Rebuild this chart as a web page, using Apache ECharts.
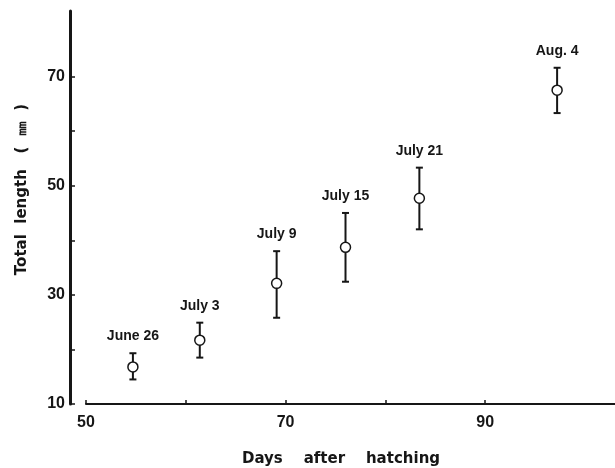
<!DOCTYPE html>
<html>
<head>
<meta charset="utf-8">
<script src="https://cdn.jsdelivr.net/npm/echarts@6/dist/echarts.min.js"></script>
<style>html,body{margin:0;padding:0;background:#fff}#c{width:615px;height:468px}</style>
</head>
<body>
<div id="c"></div>
<script>
var dateLabels = ['June 26', 'July 3', 'July 9', 'July 15', 'July 21', 'Aug. 4'];
var days = [54.7, 61.4, 69.1, 76.0, 83.4, 97.2];
var meanLength = [16.8, 21.7, 32.1, 38.7, 47.7, 67.5];
var upperLength = [19.3, 24.9, 38.0, 45.0, 53.3, 71.6];
var lowerLength = [14.5, 18.5, 25.8, 32.4, 42.0, 63.3];
var xTickValues = [50, 60, 70, 80, 90];
var xTickLabels = [50, 70, 90];
var yTickValues = [10, 20, 30, 40, 50, 60, 70];
var yTickLabels = [10, 30, 50, 70];

var ink = '#161616';
var errData = days.map(function (d, i) { return [d, lowerLength[i], upperLength[i], i]; });
var meanData = days.map(function (d, i) { return [d, meanLength[i]]; });

var chart = echarts.init(document.getElementById('c'), null, { renderer: 'canvas' });
chart.setOption({
  backgroundColor: '#fff',
  animation: false,
  grid: { left: 86, right: 0, top: 11, bottom: 64, containLabel: false, outerBoundsMode: 'none' },
  xAxis: {
    type: 'value', min: 50, max: 103, interval: 10,
    name: 'Days    after    hatching', nameLocation: 'middle', nameGap: 48,
    nameTextStyle: { fontFamily: 'DejaVu Sans', fontWeight: 'bold', fontSize: 15, color: ink, padding: [0, 19, 0, 0] },
    axisLine: { onZero: false, lineStyle: { color: ink, width: 2 } },
    axisTick: { inside: true, length: 4, customValues: xTickValues, lineStyle: { color: ink, width: 1.5 } },
    axisLabel: { customValues: xTickLabels, margin: 11, color: ink, fontFamily: 'Liberation Sans', fontWeight: 'bold', fontSize: 16 },
    splitLine: { show: false }
  },
  yAxis: {
    type: 'value', min: 10, max: 82, interval: 10, offset: 16,
    name: 'Total  length   (  ㎜  )', nameLocation: 'middle', nameGap: 40,
    nameTextStyle: { fontFamily: 'DejaVu Sans', fontWeight: 'bold', fontSize: 15, color: ink, padding: [0, 0, 0, 36] },
    axisLine: { onZero: false, lineStyle: { color: ink, width: 3 } },
    axisTick: { inside: true, length: 5, customValues: yTickValues, lineStyle: { color: ink, width: 1.5 } },
    axisLabel: { customValues: yTickLabels, margin: 5, color: ink, fontFamily: 'Liberation Sans', fontWeight: 'bold', fontSize: 16 },
    splitLine: { show: false }
  },
  series: [
    {
      type: 'custom',
      data: errData,
      encode: { x: 0, y: [1, 2] },
      renderItem: function (params, api) {
        var x = api.value(0);
        var lo = api.coord([x, api.value(1)]);
        var hi = api.coord([x, api.value(2)]);
        var idx = api.value(3);
        var cw = 3.5;
        var st = { stroke: ink, lineWidth: 2 };
        return {
          type: 'group',
          children: [
            { type: 'line', shape: { x1: lo[0], y1: lo[1], x2: hi[0], y2: hi[1] }, style: st },
            { type: 'line', shape: { x1: lo[0] - cw, y1: lo[1], x2: lo[0] + cw, y2: lo[1] }, style: st },
            { type: 'line', shape: { x1: hi[0] - cw, y1: hi[1], x2: hi[0] + cw, y2: hi[1] }, style: st },
            { type: 'text', x: hi[0], y: hi[1] - 17,
              style: { text: dateLabels[idx], textAlign: 'center', textVerticalAlign: 'middle',
                       fill: ink, font: 'bold 14px "Liberation Sans", Arial, sans-serif' } }
          ]
        };
      },
      z: 2
    },
    {
      type: 'scatter',
      data: meanData,
      symbol: 'circle',
      symbolSize: 10,
      itemStyle: { color: '#fff', borderColor: ink, borderWidth: 1.5, opacity: 1 },
      z: 3
    }
  ]
});
</script>
</body>
</html>
